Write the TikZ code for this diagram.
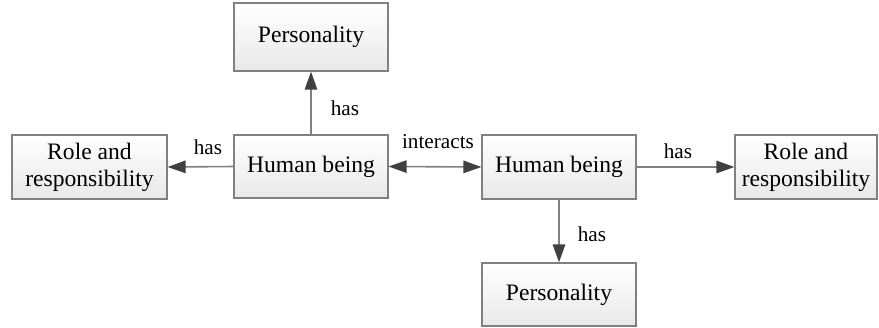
\documentclass[tikz,border=0pt]{standalone}
\usepackage{fontspec}
\setmainfont{Liberation Serif}
\usetikzlibrary{arrows.meta}
\begin{document}
\begin{tikzpicture}[x=0.5pt,y=-0.5pt,
  box/.style={draw=black!50, line width=0.6pt, top color=white, bottom color=black!9,
    inner sep=0pt, align=center, font=\fontsize{11.8}{13.6}\selectfont},
  tip/.tip={Triangle[length=9pt,width=6.2pt,color=black!75]},
  link/.style={draw=black!50, line width=0.8pt, -tip},
  lbl/.style={font=\fontsize{10.6}{12}\selectfont, inner sep=0pt}]
\useasboundingbox (0,0) rectangle (879,327);
% boxes
\node[box, minimum width=77pt, minimum height=34pt] (p1) at (311,37) {Personality};
\node[box, minimum width=77pt, minimum height=31.5pt] (h1) at (311,166.5) {Human being};
\node[box, minimum width=77.5pt, minimum height=32pt] (r1) at (89.5,167) {Role and\\responsibility};
\node[box, minimum width=77pt, minimum height=32pt] (h2) at (559,167) {Human being};
\node[box, minimum width=71pt, minimum height=32pt] (r2) at (806,167) {Role and\\responsibility};
\node[box, minimum width=77pt, minimum height=31.5pt] (p2) at (559,294.5) {Personality};
% connectors
\draw[link] (h1.north) -- (p1.south);
\draw[link] (h1.west) -- (r1.east);
\draw[link, tip-tip] (h1.east) -- (h2.west);
\draw[link] (h2.east) -- (r2.west);
\draw[link] (h2.south) -- (p2.north);
% labels
\node[lbl] (l1) at (345,108) {has};
\node[lbl] (l2) at (208,147) {has};
\node[lbl] (l3) at (438,142) {interacts};
\node[lbl] (l4) at (678,151) {has};
\node[lbl] (l5) at (592,234) {has};
\end{tikzpicture}
\end{document}
